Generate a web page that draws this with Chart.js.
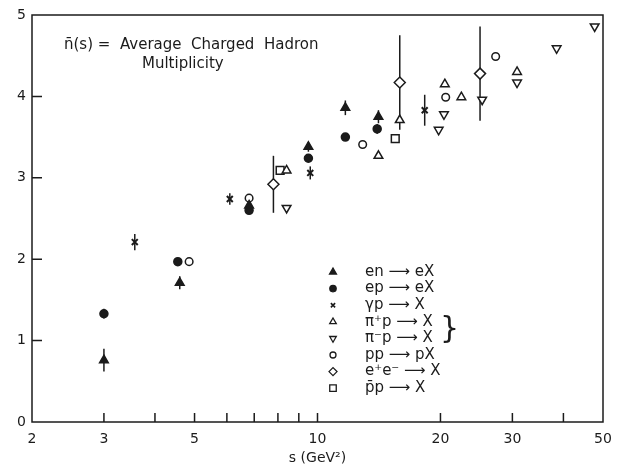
<!DOCTYPE html>
<html>
<head>
<meta charset="utf-8">
<script src="https://cdn.jsdelivr.net/npm/chart.js@4.4.1/dist/chart.umd.min.js"></script>
<style>
  html, body { margin: 0; padding: 0; background: #fff; }
</style>
</head>
<body>
<canvas id="multChart" width="621" height="467"></canvas>
<script>
// s values (GeV^2), mean multiplicity and error bar half-heights
const enS   = [3.0, 4.6, 6.8, 9.5, 11.7, 14.1];
const enN   = [0.76, 1.71, 2.66, 3.38, 3.86, 3.75];
const enErr = [0.14, 0.08, 0, 0.06, 0.09, 0.08];

const epS   = [3.0, 4.55, 6.8, 9.5, 11.7, 14.0];
const epN   = [1.33, 1.97, 2.60, 3.24, 3.50, 3.60];
const epErr = [0.06, 0, 0.04, 0, 0, 0.06];

const gpS   = [3.57, 6.1, 9.6, 18.3];
const gpN   = [2.21, 2.74, 3.06, 3.83];
const gpErr = [0.10, 0.07, 0.08, 0.19];

const piPlusS = [8.4, 14.1, 15.9, 20.5, 22.5, 30.8];
const piPlusN = [3.09, 3.27, 3.71, 4.15, 3.99, 4.30];

const piMinusS = [8.4, 19.8, 20.4, 25.3, 30.8, 38.5, 47.7];
const piMinusN = [2.63, 3.59, 3.78, 3.96, 4.17, 4.59, 4.86];

const ppS = [4.85, 6.8, 12.9, 20.6, 27.3];
const ppN = [1.97, 2.75, 3.41, 3.99, 4.49];

const eeS   = [7.8, 15.9, 25.0];
const eeN   = [2.92, 4.17, 4.28];
const eeErr = [0.35, 0.58, 0.58];

const pbarpS = [8.1, 15.5];
const pbarpN = [3.09, 3.48];

// axis ticks
const xTickValues = [2, 3, 4, 5, 6, 7, 8, 9, 10, 20, 30, 40, 50];
const xTickLabels = [2, 3, 5, 10, 20, 30, 50];
const yTickValues = [0, 1, 2, 3, 4, 5];

const titleLines = ['n\u0304(s) =  Average  Charged  Hadron', 'Multiplicity'];
const ink = '#1b1b1b';

function pts(xs, ys) {
  return xs.map((x, i) => ({ x: x, y: ys[i] }));
}

function series(label, xs, ys, errs, style) {
  return Object.assign({
    label: label,
    data: pts(xs, ys),
    errors: errs || [],
    pointBorderColor: ink,
    pointBorderWidth: 1.5,
    showLine: false
  }, style);
}

const datasets = [
  series('en \u27F6 eX', enS, enN, enErr, { pointStyle: 'triangle', pointRadius: 5, pointBackgroundColor: ink, legendRadius: 4 }),
  series('ep \u27F6 eX', epS, epN, epErr, { pointStyle: 'circle', pointRadius: 4, pointBackgroundColor: ink, legendRadius: 3.2 }),
  series('\u03B3p \u27F6 X', gpS, gpN, gpErr, { pointStyle: 'crossRot', pointRadius: 4.2, pointBorderWidth: 2, pointBackgroundColor: ink, legendRadius: 3, legendWidth: 1.6 }),
  series('\u03C0\u207Ap \u27F6 X', piPlusS, piPlusN, null, { pointStyle: 'triangle', pointRadius: 5, pointBackgroundColor: '#fff', legendRadius: 3.8 }),
  series('\u03C0\u207Bp \u27F6 X', piMinusS, piMinusN, null, { pointStyle: 'triangle', pointRadius: 5, pointRotation: 180, pointBackgroundColor: '#fff', legendRadius: 3.8 }),
  series('pp \u27F6 pX', ppS, ppN, null, { pointStyle: 'circle', pointRadius: 3.8, pointBackgroundColor: '#fff', legendRadius: 3 }),
  series('e\u207Ae\u207B \u27F6 X', eeS, eeN, eeErr, { pointStyle: 'rectRot', pointRadius: 5.5, pointBackgroundColor: '#fff', legendRadius: 4 }),
  series('p\u0304p \u27F6 X', pbarpS, pbarpN, null, { pointStyle: 'rect', pointRadius: 5.5, pointBackgroundColor: '#fff', legendRadius: 4.6 })
];

// vertical error bars, drawn under the markers
const errorBars = {
  id: 'errorBars',
  beforeDatasetsDraw(chart) {
    const { ctx, scales: { x, y } } = chart;
    ctx.save();
    ctx.strokeStyle = ink;
    ctx.lineWidth = 1.5;
    chart.data.datasets.forEach(ds => {
      ds.data.forEach((p, i) => {
        const e = ds.errors[i];
        if (!e) return;
        const px = x.getPixelForValue(p.x);
        ctx.beginPath();
        ctx.moveTo(px, y.getPixelForValue(p.y - e));
        ctx.lineTo(px, y.getPixelForValue(p.y + e));
        ctx.stroke();
      });
    });
    ctx.restore();
  }
};

// box frame with inward ticks
const frame = {
  id: 'frame',
  afterDraw(chart) {
    const { ctx, chartArea: a, scales: { x, y } } = chart;
    ctx.save();
    ctx.strokeStyle = ink;
    ctx.lineWidth = 1.5;
    ctx.strokeRect(a.left, a.top, a.right - a.left, a.bottom - a.top);
    ctx.beginPath();
    xTickValues.slice(1, -1).forEach(v => {
      const px = x.getPixelForValue(v);
      ctx.moveTo(px, a.bottom);
      ctx.lineTo(px, a.bottom - 9);
    });
    yTickValues.slice(1, -1).forEach(v => {
      const py = y.getPixelForValue(v);
      ctx.moveTo(a.left, py);
      ctx.lineTo(a.left + 10, py);
    });
    ctx.stroke();
    ctx.restore();
  }
};

// title text and symbol key inside the plot
const notes = {
  id: 'notes',
  afterDraw(chart) {
    const ctx = chart.ctx;
    ctx.save();
    ctx.fillStyle = ink;
    ctx.textBaseline = 'middle';
    ctx.font = '15px "DejaVu Sans"';
    ctx.fillText(titleLines[0], 64, 45);
    ctx.fillText(titleLines[1], 142, 64);

    const rowTop = 272, rowStep = 16.6;
    chart.data.datasets.forEach((ds, i) => {
      const yy = rowTop + i * rowStep;
      ctx.fillStyle = ds.pointBackgroundColor;
      ctx.strokeStyle = ink;
      ctx.lineWidth = ds.legendWidth || 1.3;
      Chart.helpers.drawPoint(ctx, {
        pointStyle: ds.pointStyle,
        radius: ds.legendRadius,
        rotation: ds.pointRotation || 0,
        borderWidth: ctx.lineWidth
      }, 333, yy);
      ctx.fillStyle = ink;
      ctx.font = '15px "DejaVu Sans"';
      ctx.fillText(ds.label, 365, yy);
    });
    ctx.font = '30px "DejaVu Sans"';
    ctx.fillText('}', 440, rowTop + 3.5 * rowStep);
    ctx.restore();
  }
};

new Chart(document.getElementById('multChart'), {
  type: 'scatter',
  data: { datasets: datasets },
  plugins: [errorBars, frame, notes],
  options: {
    responsive: false,
    animation: false,
    devicePixelRatio: 1,
    events: [],
    layout: { padding: { top: 15, right: 18, left: 0, bottom: 0 } },
    plugins: {
      legend: { display: false },
      tooltip: { enabled: false }
    },
    scales: {
      x: {
        type: 'logarithmic',
        min: 2,
        max: 50,
        grid: { display: false, drawTicks: false },
        border: { display: false },
        afterBuildTicks: scale => {
          scale.ticks = xTickValues.map(v => ({ value: v }));
        },
        afterFit: scale => { scale.height = 45; },
        ticks: {
          autoSkip: false,
          maxRotation: 0,
          padding: 9,
          color: ink,
          font: { family: 'DejaVu Sans', size: 14 },
          callback: v => xTickLabels.includes(v) ? String(v) : ''
        },
        title: {
          display: true,
          text: 's (GeV\u00B2)',
          color: ink,
          padding: { top: 0, bottom: 0 },
          font: { family: 'DejaVu Sans', size: 14 }
        }
      },
      y: {
        min: 0,
        max: 5,
        grid: { display: false, drawTicks: false },
        border: { display: false },
        afterBuildTicks: scale => {
          scale.ticks = yTickValues.map(v => ({ value: v }));
        },
        afterFit: scale => { scale.width = 32; },
        ticks: {
          padding: 6,
          color: ink,
          font: { family: 'DejaVu Sans', size: 14 }
        }
      }
    }
  }
});
</script>
</body>
</html>
